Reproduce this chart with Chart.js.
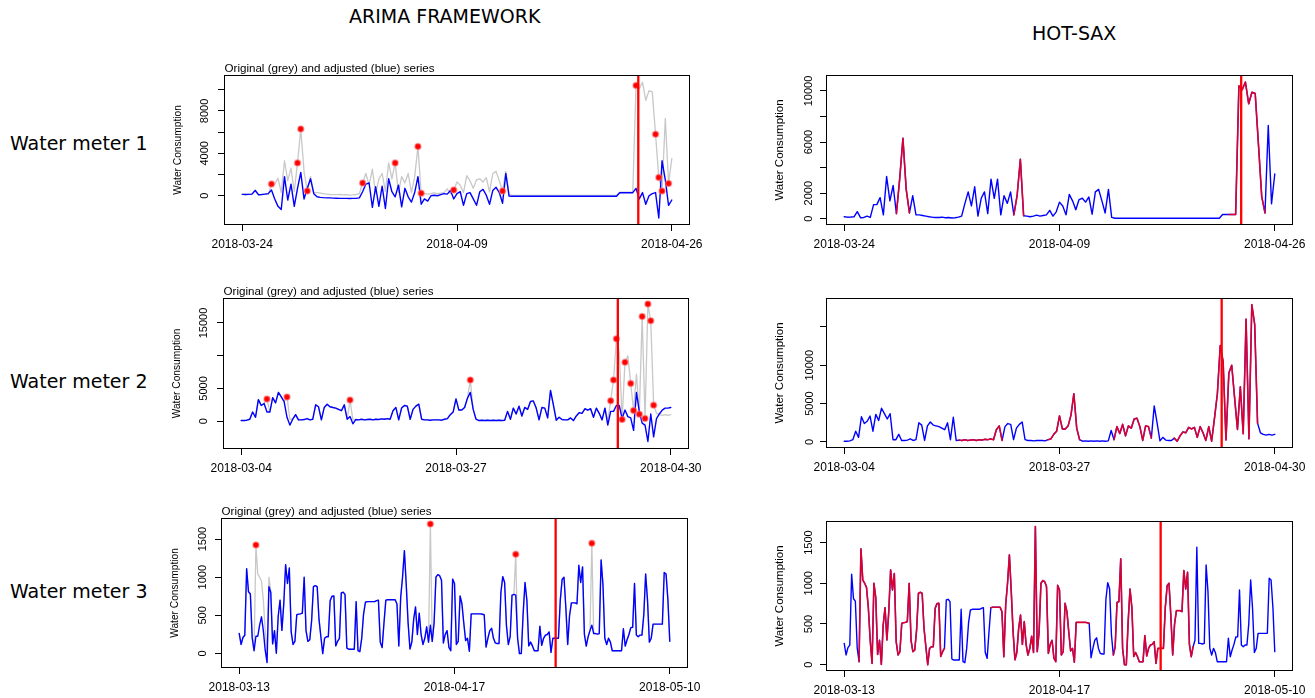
<!DOCTYPE html>
<html><head><meta charset="utf-8">
<script src="https://cdn.jsdelivr.net/npm/chart.js@4.4.1/dist/chart.umd.min.js"></script>
<style>
html,body{margin:0;padding:0;background:#fff;}
body{width:1315px;height:698px;position:relative;overflow:hidden;}
.lbl{position:absolute;font-family:"DejaVu Sans",sans-serif;font-size:19px;line-height:19px;color:#000;white-space:nowrap;}
.panel{position:absolute;}
canvas{display:block;}
</style></head><body>
<div class="lbl" style="left:349px;top:7px">ARIMA FRAMEWORK</div>
<div class="lbl" style="left:1032px;top:24px">HOT-SAX</div>
<div class="lbl" style="left:10px;top:134px">Water meter 1</div>
<div class="lbl" style="left:10px;top:372px">Water meter 2</div>
<div class="lbl" style="left:10px;top:582px">Water meter 3</div>
<script>
// ---------------- DATA ----------------
const dates1 = ['2018-03-24','2018-04-09','2018-04-26'];
const dates2 = ['2018-03-04','2018-03-27','2018-04-30'];
const dates3 = ['2018-03-13','2018-04-17','2018-05-10'];

// Water meter 1 (original = grey / HOT-SAX series, adjusted = ARIMA blue)
const wm1Original = [150,120,130,150,550,80,100,200,100,1100,
1100,1650,300,3300,1400,2600,400,3100,6300,2300,
450,1800,300,300,250,200,150,120,100,100,
120,80,100,60,80,120,200,1200,2100,1000,
2500,200,1600,2100,400,3100,1600,3100,300,1800,
1200,2100,300,1800,4650,230,200,150,200,280,
200,250,300,650,200,540,1300,1000,300,1900,
1400,700,1500,1600,1300,1700,350,2100,2300,1400,
450,2300,100,40,40,40,40,40,40,40,
40,40,40,40,40,40,40,40,40,40,
40,40,40,40,40,40,40,40,40,40,
40,40,40,40,40,40,330,330,330,330,
330,10400,10100,10700,9000,9900,9800,5800,1730,450,
7300,1165,3500];
const wm1Adjusted = [130,120,130,150,500,100,120,150,200,540,
-300,-1000,-1300,1800,-400,1100,-1000,700,2200,-300,
700,1600,200,-100,-150,-180,-200,-200,-220,-230,
-250,-250,-250,-260,-250,-250,-200,380,1100,1200,
-1100,850,-1000,900,-1200,1600,380,-100,1000,-1050,
700,-100,-600,300,1800,-800,-300,-500,0,50,
0,100,200,150,500,-300,200,380,-900,200,
300,-300,-900,380,600,50,-800,500,800,300,
-700,2100,-30,-40,-40,-40,-40,-40,-40,-40,
-40,-40,-40,-40,-40,-40,-40,-40,-40,-40,
-40,-40,-40,-40,-40,-40,-40,-40,-40,-40,
-40,-40,-40,-40,-40,-40,290,290,290,290,
290,700,-300,300,-800,0,200,300,-2100,3300,
1500,-900,-400];
const wm1Outliers = [9,17,18,20,37,47,54,55,65,80,121,127,128,129,131];
const wm1Discords = [[16,20],[52,55],[118,129]];
const wm1Change = 121.7;

// Water meter 2
const wm2Original = [100,100,150,300,1400,600,3300,2400,2700,3374,
1400,3600,2800,4400,3700,3000,3681,300,300,1000,
200,200,250,400,200,300,2500,2200,200,2100,
2600,2200,2100,2000,1800,1600,2500,300,3221,200,
250,200,300,200,250,300,200,300,250,350,
300,400,300,1600,2100,200,2000,2400,2300,300,
1800,2300,2600,300,200,200,150,200,200,200,
150,300,400,1000,1400,3400,1700,1700,2100,3500,
6288,1800,300,100,150,100,150,100,150,100,
150,100,150,1500,300,2000,1100,2300,800,2100,
1800,3000,3100,2000,200,2100,2000,500,4700,2500,
150,600,250,200,200,500,100,800,1300,1200,
1900,1700,1900,600,2000,1200,200,2000,100,3119,
6288,12577,10500,256,9000,10000,5777,1636,7200,1074,
16002,409,17894,15337,2454,1200,1000,900,1000,900,
1000];
const wm2Adjusted = [100,100,150,300,1400,600,3300,2400,2700,1400,
1400,3600,2800,4400,3700,3000,600,-600,300,1000,
200,200,250,400,200,300,2500,2200,200,2100,
2600,2200,2100,2000,1800,1600,2500,300,700,-400,
250,200,300,200,250,300,200,300,250,350,
300,400,300,1600,2100,200,2000,2400,2300,300,
1800,2300,2600,300,200,200,150,200,200,200,
150,300,400,1000,1400,3400,1700,1700,2100,3500,
4400,1800,300,100,150,100,150,100,150,100,
150,100,150,1500,300,2000,1100,2300,800,2100,
1800,3000,3100,2000,200,2100,2000,500,4700,2500,
150,600,250,200,200,500,100,800,1300,1200,
1900,1700,1900,600,2000,1200,200,2000,-600,1500,
1500,2400,2400,400,1700,700,500,-1400,4400,1500,
-300,-600,-3100,1100,-2400,400,1100,1700,2000,2000,
2100];
const wm2Outliers = [9,16,38,80,129,130,131,133,134,136,137,139,140,141,142,143,144];
const wm2Discords = [[40,55],[71,82],[94,107],[115,144]];
const wm2Change = 131.5;

// Water meter 3
const wm3Original = [262,119,210,240,1110,810,780,205,37,1422,
1040,1000,950,700,300,16,1000,824,127,300,
4,488,700,303,650,1164,918,1120,283,119,
160,508,516,520,529,999,300,160,180,426,
877,889,877,447,220,0,200,221,221,693,
750,754,100,160,200,795,803,775,70,57,
57,57,57,680,37,25,200,516,672,680,
680,680,680,680,693,700,150,78,400,700,
705,705,705,705,705,650,98,734,1000,1348,
900,400,60,150,447,610,250,529,250,119,
200,350,150,1697,160,400,1000,1033,1020,959,
139,250,300,80,37,975,918,119,160,754,
652,400,170,200,30,520,520,520,520,520,
520,515,508,86,200,300,330,200,139,131,
131,800,1008,930,365,119,221,766,774,1299,
200,0,0,529,930,700,100,150,100,37,
37,37,357,107,200,242,250,283,16,200,
200,200,200,700,970,1000,600,119,500,664,
664,664,652,1156,930,1135,250,98,221,300,
1443,262,262,254,262,1225,900,200,119,200,
150,37,37,37,37,37,37,324,98,180,
250,340,344,918,242,221,242,242,508,1041,
700,150,200,385,385,385,385,385,385,1061,
1040,700,160];
const wm3Adjusted = [262,119,210,240,1110,810,780,205,37,227,
227,372,481,300,44,-118,875,800,127,300,
4,488,700,303,650,1164,918,1120,283,119,
160,508,516,520,529,999,300,160,180,426,
877,889,877,447,220,0,200,221,221,693,
750,754,100,160,200,795,803,775,70,57,
57,57,57,680,37,25,200,516,672,680,
680,680,680,680,693,700,150,78,400,700,
705,705,705,705,705,650,98,734,1000,1348,
900,400,60,150,447,610,250,529,250,119,
200,350,150,370,160,400,1000,1033,1020,959,
139,250,300,80,37,975,918,119,160,754,
652,400,170,200,30,520,520,520,520,520,
520,515,508,86,200,300,330,200,139,131,
131,800,1008,930,365,119,221,766,774,765,
200,0,0,529,930,700,100,150,100,37,
37,37,357,107,200,242,250,283,16,200,
200,200,200,700,970,1000,600,119,500,664,
664,664,652,1156,930,1135,250,98,221,300,
372,262,262,254,262,1225,900,200,119,200,
150,37,37,37,37,37,37,324,98,180,
250,340,344,918,242,221,242,242,508,1041,
700,150,200,385,385,385,385,385,385,1061,
1040,700,160];
const wm3Outliers = [9,103,149,190];
const wm3Discords = [[8,54],[79,132],[145,188]];
const wm3Change = 170.5;

// y-axis ticks (all tick marks) and the ones that carry a label
const yTicksA1 = [0,2000,4000,6000,8000,10000], yLabelsA1 = [0,4000,8000];
const yTicksA2 = [0,5000,10000,15000],           yLabelsA2 = [0,5000,15000];
const yTicksA3 = [0,500,1000,1500],              yLabelsA3 = [0,500,1000,1500];
const yTicksH1 = [0,2000,4000,6000,8000,10000], yLabelsH1 = [0,2000,6000,10000];
const yTicksH2 = [0,5000,10000,15000],           yLabelsH2 = [0,5000,10000];
const yTicksH3 = [0,500,1000,1500],              yLabelsH3 = [0,500,1000,1500];

const subtitleText = 'Original (grey) and adjusted (blue) series';
const yTitleText = 'Water Consumption';

// ---------------- LAYOUT / DRAWING ----------------
const LEFT = 62, RIGHT = 35, TOP = 22, BOTTOM = 34;
const FONT_R = '"Liberation Sans", Arial, Helvetica, sans-serif';
Chart.defaults.font.family = FONT_R;
Chart.defaults.color = '#000';

const mctx = document.createElement('canvas').getContext('2d');
function measure(text, size){ mctx.font = size + 'px ' + FONT_R; return mctx.measureText(text).width; }

const boxPlugin = {
  id: 'rbox',
  afterDraw(chart, args, opts){
    const {ctx, chartArea: a} = chart;
    ctx.save();
    ctx.strokeStyle = '#000'; ctx.lineWidth = 1;
    const l = Math.round(a.left), t = Math.round(a.top), r = Math.round(a.right), b = Math.round(a.bottom);
    ctx.strokeRect(l - 0.5, t - 0.5, r - l + 1, b - t + 1);
    if (opts && opts.subtitle){
      ctx.fillStyle = '#000'; ctx.font = '11.6px ' + FONT_R;
      ctx.textAlign = 'left'; ctx.textBaseline = 'alphabetic';
      ctx.fillText(opts.subtitle, l - 0.5, t - 4);
    }
    ctx.restore();
  }
};

function vline(cp, yMin, yMax){
  return {data:[{x:cp,y:yMin},{x:cp,y:yMax}], borderColor:'#ff0000', borderWidth:2.3, pointRadius:0, order:0};
}
function arimaSets(orig, adj, outl, cp, yMin, yMax){
  return [
    vline(cp, yMin, yMax),
    {data: outl.map(i => ({x:i, y:orig[i]})), showLine:false, pointRadius:3, pointBackgroundColor:'#ff0000',
     pointBorderColor:'rgba(255,120,120,0.5)', pointBorderWidth:1.6, order:1},
    {data: adj.map((v,i) => ({x:i, y:v})), borderColor:'#0000ff', borderWidth:1.4, pointRadius:0, order:2},
    {data: orig.map((v,i) => ({x:i, y:v})), borderColor:'#c8c8c8', borderWidth:1.3, pointRadius:0, order:3}
  ];
}
function saxSets(orig, ranges, cp, yMin, yMax){
  const inR = i => ranges.some(([a,b]) => i >= a && i <= b);
  return [
    vline(cp, yMin, yMax),
    {data: orig.map((v,i) => ({x:i, y: inR(i) ? v : null})), borderColor:'rgba(240,0,25,0.9)', borderWidth:1.6, pointRadius:0, spanGaps:false, order:1},
    {data: orig.map((v,i) => ({x:i, y:v})), borderColor:'#0000ff', borderWidth:1.4, pointRadius:0, order:2}
  ];
}

function panel(p){
  const [bl, bt, br, bb] = p.box;
  const W = (br - bl) + LEFT + RIGHT, H = (bb - bt) + TOP + BOTTOM;
  const wrap = document.createElement('div'); wrap.className = 'panel';
  wrap.style.left = (bl - LEFT) + 'px'; wrap.style.top = (bt - TOP) + 'px';
  const cv = document.createElement('canvas'); cv.width = W; cv.height = H;
  cv.style.width = W + 'px'; cv.style.height = H + 'px';
  wrap.appendChild(cv); document.body.appendChild(wrap);

  const n = p.n, last = n - 1;
  const xPos = [0, Math.floor(last/2), last];
  const ySize = 11;
  const widest = Math.max(...p.yLabels.map(v => measure(String(v), ySize)));
  const yPad = p.labOff - 7 - widest/2;
  const tSize = p.titleSize;

  new Chart(cv.getContext('2d'), {
    type: 'line',
    data: {datasets: p.datasets},
    options: {
      responsive:false, animation:false, devicePixelRatio:1, events:[],
      layout:{padding:{top:TOP, right:RIGHT, left:0, bottom:0}},
      plugins:{legend:{display:false}, tooltip:{enabled:false}, rbox:{subtitle: p.subtitle || null}},
      elements:{line:{tension:0, borderJoinStyle:'round', borderCapStyle:'round'}, point:{radius:0}},
      scales:{
        x:{
          type:'linear', min:-0.04*last, max:1.04*last,
          afterBuildTicks: s => { s.ticks = xPos.map(v => ({value:v})); },
          ticks:{autoSkip:false, maxRotation:0, minRotation:0, padding:6, color:'#000',
                 font:{family:FONT_R, size:12},
                 callback: v => { const k = xPos.indexOf(v); return k >= 0 ? p.dates[k] : ''; }},
          grid:{drawOnChartArea:false, drawTicks:true, tickLength:7, tickColor:'#000', tickWidth:1, color:'#000'},
          border:{display:false},
          afterFit: s => { s.height = BOTTOM; }
        },
        y:{
          type:'linear', min:p.yMin, max:p.yMax,
          afterBuildTicks: s => { s.ticks = p.yTicks.map(v => ({value:v})); },
          ticks:{autoSkip:false, minRotation:90, maxRotation:90, crossAlign:'center', padding:yPad, color:'#000',
                 font:{family:FONT_R, size:ySize},
                 callback: v => p.yLabels.includes(v) ? String(v) : ''},
          grid:{drawOnChartArea:false, drawTicks:true, tickLength:7, tickColor:'#000', tickWidth:1, color:'#000'},
          border:{display:false},
          title:{display:true, text:yTitleText, color:'#000', font:{family:FONT_R, size:tSize},
                 padding:{top: (LEFT - 47) - 0.6*tSize, bottom:0}},
          afterFit: s => { s.width = LEFT; }
        }
      }
    },
    plugins:[boxPlugin]
  });
}

const A1 = {min:-2664, max:11294}, A2 = {min:-4095, max:18666}, A3 = {min:-176, max:1762};
const H1 = {min:-414, max:11172}, H2 = {min:-653, max:18629}, H3 = {min:-65, max:1752};

panel({box:[225,76,689,224], n:wm1Original.length, dates:dates1, yMin:A1.min, yMax:A1.max, yTicks:yTicksA1, yLabels:yLabelsA1,
  labOff:20.3, titleSize:10.2, subtitle:subtitleText,
  datasets: arimaSets(wm1Original, wm1Adjusted, wm1Outliers, wm1Change, A1.min, A1.max)});
panel({box:[224,299,688,448], n:wm2Original.length, dates:dates2, yMin:A2.min, yMax:A2.max, yTicks:yTicksA2, yLabels:yLabelsA2,
  labOff:19.7, titleSize:10.2, subtitle:subtitleText,
  datasets: arimaSets(wm2Original, wm2Adjusted, wm2Outliers, wm2Change, A2.min, A2.max)});
panel({box:[222,519,687,667], n:wm3Original.length, dates:dates3, yMin:A3.min, yMax:A3.max, yTicks:yTicksA3, yLabels:yLabelsA3,
  labOff:18.7, titleSize:10.2, subtitle:subtitleText,
  datasets: arimaSets(wm3Original, wm3Adjusted, wm3Outliers, wm3Change, A3.min, A3.max)});
panel({box:[827,76,1292,224], n:wm1Original.length, dates:dates1, yMin:H1.min, yMax:H1.max, yTicks:yTicksH1, yLabels:yLabelsH1,
  labOff:18, titleSize:11.5,
  datasets: saxSets(wm1Original, wm1Discords, wm1Change, H1.min, H1.max)});
panel({box:[827,299,1292,447], n:wm2Original.length, dates:dates2, yMin:H2.min, yMax:H2.max, yTicks:yTicksH2, yLabels:yLabelsH2,
  labOff:17.5, titleSize:11.5,
  datasets: saxSets(wm2Original, wm2Discords, wm2Change, H2.min, H2.max)});
panel({box:[827,522,1292,670], n:wm3Original.length, dates:dates3, yMin:H3.min, yMax:H3.max, yTicks:yTicksH3, yLabels:yLabelsH3,
  labOff:18, titleSize:11.5,
  datasets: saxSets(wm3Original, wm3Discords, wm3Change, H3.min, H3.max)});
</script>
</body></html>
